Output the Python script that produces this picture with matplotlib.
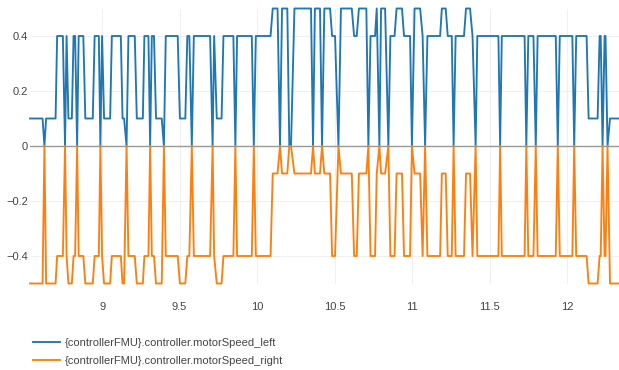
import matplotlib
matplotlib.use('Agg')
import matplotlib.pyplot as plt
from matplotlib.ticker import FuncFormatter

# Time vertices (s) of the two motor speed traces
time = [
    8.535, 8.616, 8.628, 8.639, 8.700, 8.710, 8.747, 8.761, 8.771, 8.783,
    8.805, 8.816, 8.826, 8.839, 8.849, 8.879, 8.892, 8.940, 8.952, 8.979,
    8.989, 9.000, 9.013, 9.052, 9.063, 9.121, 9.132, 9.142, 9.158, 9.170,
    9.211, 9.224, 9.263, 9.273, 9.299, 9.310, 9.321, 9.335, 9.348, 9.385,
    9.399, 9.411, 9.488, 9.502, 9.537, 9.550, 9.563, 9.579, 9.592, 9.697,
    9.713, 9.723, 9.740, 9.771, 9.783, 9.847, 9.860, 9.871, 9.966, 9.979,
    9.992, 10.087, 10.101, 10.132, 10.148, 10.161, 10.195, 10.208, 10.219, 10.241,
    10.348, 10.361, 10.373, 10.406, 10.419, 10.434, 10.471, 10.484, 10.503, 10.525,
    10.541, 10.611, 10.626, 10.643, 10.657, 10.705, 10.718, 10.732, 10.761, 10.772,
    10.789, 10.800, 10.826, 10.847, 10.860, 10.887, 10.900, 10.935, 10.948, 10.987,
    10.999, 11.016, 11.052, 11.068, 11.084, 11.099, 11.181, 11.192, 11.217, 11.230,
    11.256, 11.268, 11.281, 11.335, 11.348, 11.374, 11.390, 11.410, 11.421, 11.557,
    11.568, 11.579, 11.726, 11.737, 11.750, 11.783, 11.798, 11.810, 11.927, 11.940,
    11.953, 12.034, 12.046, 12.059, 12.126, 12.139, 12.197, 12.210, 12.217, 12.229,
    12.242, 12.248, 12.261, 12.277, 12.335,
]

speed_left = [
    0.1, 0.1, 0.0, 0.1, 0.1, 0.4, 0.4, 0.0, 0.4, 0.1,
    0.1, 0.4, 0.4, 0.0, 0.4, 0.4, 0.1, 0.1, 0.4, 0.4,
    0.0, 0.4, 0.1, 0.1, 0.4, 0.4, 0.1, 0.1, 0.0, 0.4,
    0.4, 0.1, 0.1, 0.4, 0.4, 0.0, 0.4, 0.4, 0.1, 0.1,
    0.0, 0.4, 0.4, 0.1, 0.1, 0.4, 0.4, 0.0, 0.4, 0.4,
    0.0, 0.4, 0.1, 0.1, 0.4, 0.4, 0.0, 0.4, 0.4, 0.0,
    0.4, 0.4, 0.5, 0.5, 0.0, 0.5, 0.5, 0.0, 0.0, 0.5,
    0.5, 0.0, 0.5, 0.5, 0.0, 0.5, 0.5, 0.4, 0.4, 0.0,
    0.5, 0.5, 0.4, 0.4, 0.5, 0.5, 0.0, 0.4, 0.4, 0.5,
    0.0, 0.5, 0.5, 0.0, 0.4, 0.4, 0.5, 0.5, 0.4, 0.4,
    0.0, 0.5, 0.5, 0.4, 0.0, 0.4, 0.4, 0.5, 0.5, 0.4,
    0.4, 0.0, 0.4, 0.4, 0.5, 0.5, 0.4, 0.0, 0.4, 0.4,
    0.0, 0.4, 0.4, 0.0, 0.4, 0.4, 0.0, 0.4, 0.4, 0.0,
    0.4, 0.4, 0.0, 0.4, 0.4, 0.1, 0.1, 0.4, 0.4, 0.0,
    0.4, 0.4, 0.0, 0.1, 0.1,
]

speed_right = [
    -0.5, -0.5, 0.0, -0.5, -0.5, -0.4, -0.4, 0.0, -0.4, -0.5,
    -0.5, -0.4, -0.4, 0.0, -0.4, -0.4, -0.5, -0.5, -0.4, -0.4,
    0.0, -0.4, -0.5, -0.5, -0.4, -0.4, -0.5, -0.5, 0.0, -0.4,
    -0.4, -0.5, -0.5, -0.4, -0.4, 0.0, -0.4, -0.4, -0.5, -0.5,
    0.0, -0.4, -0.4, -0.5, -0.5, -0.4, -0.4, 0.0, -0.4, -0.4,
    0.0, -0.4, -0.5, -0.5, -0.4, -0.4, 0.0, -0.4, -0.4, 0.0,
    -0.4, -0.4, -0.1, -0.1, 0.0, -0.1, -0.1, 0.0, 0.0, -0.1,
    -0.1, 0.0, -0.1, -0.1, 0.0, -0.1, -0.1, -0.4, -0.4, 0.0,
    -0.1, -0.1, -0.4, -0.4, -0.1, -0.1, 0.0, -0.4, -0.4, -0.1,
    0.0, -0.1, -0.1, 0.0, -0.4, -0.4, -0.1, -0.1, -0.4, -0.4,
    0.0, -0.1, -0.1, -0.4, 0.0, -0.4, -0.4, -0.1, -0.1, -0.4,
    -0.4, 0.0, -0.4, -0.4, -0.1, -0.1, -0.4, 0.0, -0.4, -0.4,
    0.0, -0.4, -0.4, 0.0, -0.4, -0.4, 0.0, -0.4, -0.4, 0.0,
    -0.4, -0.4, 0.0, -0.4, -0.4, -0.5, -0.5, -0.4, -0.4, 0.0,
    -0.4, -0.4, 0.0, -0.5, -0.5,
]

labels = ['{controllerFMU}.controller.motorSpeed_left',
          '{controllerFMU}.controller.motorSpeed_right']
colors = ['#1f77b4', '#ff7f0e']
x_ticks = [9, 9.5, 10, 10.5, 11, 11.5, 12]
y_ticks = [-0.4, -0.2, 0, 0.2, 0.4]

plt.rcParams['font.family'] = ['Liberation Sans', 'DejaVu Sans']
plt.rcParams['font.size'] = 8

fig = plt.figure(figsize=(6.19, 3.70), dpi=100)
ax = fig.add_axes([30 / 619, 1 - 283.5 / 370, 589 / 619, 275 / 370])

for spine in ax.spines.values():
    spine.set_visible(False)

ax.grid(True, axis='both', color='#f0f0f0', linewidth=0.8)
ax.set_axisbelow(True)
ax.axhline(0, color='#999999', linewidth=1.0, zorder=1)

for vals, lab, col in zip([speed_left, speed_right], labels, colors):
    ax.plot(time, vals, color=col, linewidth=1.35, label=lab,
            clip_on=False, zorder=3)

ax.set_xlim(time[0], time[-1])
ax.set_ylim(-0.5, 0.5)
ax.set_xticks(x_ticks)
ax.set_yticks(y_ticks)
ax.xaxis.set_major_formatter(FuncFormatter(lambda v, p: f'{v:g}'))
ax.yaxis.set_major_formatter(
    FuncFormatter(lambda v, p: f'{v:g}'.replace('-', '\u2212') if abs(v) > 1e-9 else '0'))
ax.tick_params(axis='both', length=0, colors='#444444', labelsize=8)
ax.tick_params(axis='x', pad=13.5)
ax.tick_params(axis='y', pad=1.5)

fig.legend(loc='center left', bbox_to_anchor=(33 / 619, 1 - 351.7 / 370),
           frameon=False, handlelength=2.45, handletextpad=0.4,
           borderpad=0, borderaxespad=0, labelspacing=0.75,
           labelcolor='#444444', fontsize=8)

fig.savefig('out.png', dpi=100)
